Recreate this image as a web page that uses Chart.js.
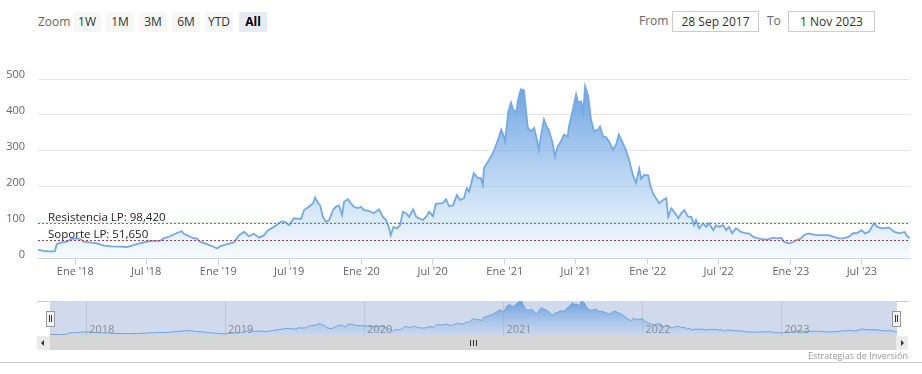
<!DOCTYPE html>
<html>
<head>
<meta charset="utf-8">
<script src="https://cdn.jsdelivr.net/npm/chart.js@4.4.1/dist/chart.umd.min.js"></script>
<style>
  html, body { margin:0; padding:0; background:#fff; }
  body { width:922px; height:374px; position:relative; overflow:hidden; font-family:"Open Sans", "Liberation Sans", sans-serif; }
  .abs { position:absolute; }
  .lbl { color:#666; font-size:12px; line-height:20px; }
  .btn { position:absolute; top:12px; height:20px; width:28px; background:#f7f7f7; color:#333; font-size:12px; line-height:20px; text-align:center; }
  .btn.sel { background:#e6ebf5; color:#000; font-weight:bold; }
  .inp { position:absolute; top:11px; height:19px; border:1px solid #cccccc; color:#333; font-size:12px; line-height:19px; text-align:center; }
  #main { position:absolute; left:0; top:0; }
  #nav { position:absolute; left:0; top:301px; }
</style>
</head>
<body>
<div class="abs lbl" style="left:38px;top:12px;">Zoom</div>
<div class="btn" style="left:73px;">1W</div>
<div class="btn" style="left:106px;">1M</div>
<div class="btn" style="left:139px;">3M</div>
<div class="btn" style="left:172px;">6M</div>
<div class="btn" style="left:205px;">YTD</div>
<div class="btn sel" style="left:239px;">All</div>
<div class="abs lbl" style="left:639px;top:11px;">From</div>
<div class="inp" style="left:672px;width:85px;">28 Sep 2017</div>
<div class="abs lbl" style="left:767px;top:11px;">To</div>
<div class="inp" style="left:788px;width:85px;">1 Nov 2023</div>

<canvas id="main" width="922" height="290"></canvas>
<canvas id="nav" width="922" height="35"></canvas>

<!-- navigator outline / handles / scrollbar -->
<div class="abs" style="left:37px;top:301px;width:13px;height:1px;background:#cccccc;"></div>
<div class="abs" style="left:897px;top:301px;width:12px;height:1px;background:#cccccc;"></div>
<div class="abs" style="left:37px;top:336px;width:871px;height:14px;background:#f2f2f2;"></div>
<div class="abs" style="left:50px;top:336px;width:847px;height:14px;background:#d6d6d6;"></div>
<div class="abs" style="left:37px;top:336px;width:13px;height:14px;background:#ebebeb;"></div>
<div class="abs" style="left:41px;top:340px;width:0;height:0;border-top:3px solid transparent;border-bottom:3px solid transparent;border-right:3px solid #333;"></div>
<div class="abs" style="left:896px;top:336px;width:12px;height:14px;background:#ebebeb;"></div>
<div class="abs" style="left:901px;top:340px;width:0;height:0;border-top:3px solid transparent;border-bottom:3px solid transparent;border-left:3px solid #333;"></div>
<div class="abs" style="left:470px;top:340px;width:1px;height:6px;background:#333;"></div>
<div class="abs" style="left:473px;top:340px;width:1px;height:6px;background:#333;"></div>
<div class="abs" style="left:476px;top:340px;width:1px;height:6px;background:#333;"></div>
<div class="abs" style="left:46px;top:311px;width:7px;height:14px;background:#f2f2f2;border:1px solid #999;"></div>
<div class="abs" style="left:49px;top:315px;width:1px;height:7px;background:#333;"></div>
<div class="abs" style="left:51px;top:315px;width:1px;height:7px;background:#333;"></div>
<div class="abs" style="left:892px;top:311px;width:7px;height:14px;background:#f2f2f2;border:1px solid #999;"></div>
<div class="abs" style="left:895px;top:315px;width:1px;height:7px;background:#333;"></div>
<div class="abs" style="left:897px;top:315px;width:1px;height:7px;background:#333;"></div>
<div class="abs" style="left:0;top:362px;width:922px;height:1px;background:#cccccc;"></div>
<div class="abs" style="right:14px;top:350px;font-size:9px;color:#999;line-height:12px;">Estrategias de Inversión</div>

<script>
// ---------- DATA ----------
const dates = [
'2017-09-28','2017-10-11','2017-10-26','2017-11-10','2017-11-15','2017-11-25','2017-12-11','2017-12-21','2017-12-31',
'2018-01-13','2018-01-23','2018-02-07','2018-02-25','2018-03-15','2018-04-02','2018-04-25','2018-05-13','2018-06-07',
'2018-06-25','2018-07-08','2018-07-21','2018-08-05','2018-08-15','2018-08-31','2018-09-17','2018-09-30','2018-10-05',
'2018-10-18','2018-10-31','2018-11-07','2018-11-15','2018-12-03','2018-12-21','2018-12-29',
'2019-01-05','2019-01-23','2019-02-10','2019-02-23','2019-03-08','2019-03-20','2019-04-02','2019-04-15','2019-04-28',
'2019-05-08','2019-05-23','2019-06-10','2019-06-18','2019-07-01','2019-07-13','2019-07-31','2019-08-08','2019-08-20',
'2019-08-31','2019-09-05','2019-09-13','2019-09-18','2019-09-25','2019-10-03','2019-10-11','2019-10-21','2019-10-28',
'2019-11-05','2019-11-13','2019-11-18','2019-11-28','2019-12-05','2019-12-13','2019-12-23','2019-12-31',
'2020-01-08','2020-01-20','2020-02-02','2020-02-15','2020-02-25','2020-03-04','2020-03-11','2020-03-16','2020-03-23',
'2020-04-01','2020-04-09','2020-04-16','2020-04-24','2020-05-02','2020-05-12','2020-05-20','2020-05-27','2020-06-06',
'2020-06-14','2020-06-22','2020-07-02','2020-07-09','2020-07-27','2020-08-04','2020-08-12','2020-08-22','2020-09-01',
'2020-09-09','2020-09-19','2020-09-26','2020-10-02','2020-10-14','2020-10-25','2020-11-01','2020-11-06','2020-11-09',
'2020-11-22','2020-12-02','2020-12-15','2020-12-23','2020-12-28',
'2021-01-02','2021-01-10','2021-01-17','2021-01-22','2021-01-30','2021-02-04','2021-02-11','2021-02-19','2021-02-22',
'2021-03-01','2021-03-09','2021-03-17','2021-03-24','2021-03-29','2021-04-03','2021-04-11','2021-04-18','2021-04-23',
'2021-05-03','2021-05-09','2021-05-16','2021-05-24','2021-06-01','2021-06-11','2021-06-13','2021-06-24','2021-07-02',
'2021-07-07','2021-07-15','2021-07-20','2021-07-25','2021-08-02','2021-08-09','2021-08-17','2021-08-27','2021-09-01',
'2021-09-09','2021-09-16','2021-09-24','2021-10-04','2021-10-12','2021-10-19','2021-10-29','2021-11-06','2021-11-14',
'2021-11-24','2021-12-02','2021-12-10','2021-12-15','2021-12-23',
'2022-01-02','2022-01-07','2022-01-14','2022-01-22','2022-01-30','2022-02-09','2022-02-17','2022-02-22','2022-03-02',
'2022-03-09','2022-03-20','2022-03-27','2022-04-04','2022-04-14','2022-04-22','2022-04-29','2022-05-04','2022-05-12',
'2022-05-22','2022-05-30','2022-06-06','2022-06-17','2022-06-24','2022-07-02','2022-07-12','2022-07-20','2022-07-27',
'2022-08-04','2022-08-14','2022-08-27','2022-09-09','2022-09-16','2022-09-27','2022-10-09','2022-10-22','2022-11-04',
'2022-11-17','2022-11-29','2022-12-07','2022-12-15','2022-12-28',
'2023-01-07','2023-01-14','2023-01-27','2023-02-04','2023-02-14','2023-02-22','2023-03-07','2023-03-20','2023-04-07',
'2023-04-20','2023-05-03','2023-05-15','2023-05-28','2023-06-10','2023-06-18','2023-07-01','2023-07-09','2023-07-19',
'2023-08-01','2023-08-09','2023-08-22','2023-09-09','2023-09-22','2023-10-05','2023-10-18','2023-10-25','2023-11-01'
];
const values = [
24,21,20,20,40,44,47,54,56,
55,47,45,42,36,34,33,32,40,
45,48,49,49,56,62,71,76,69,
62,56,56,47,40,32,28,
34,40,45,65,74,62,69,58,65,
79,88,102,103,93,112,110,135,144,
154,170,154,148,116,102,107,135,144,
148,121,158,165,154,144,140,144,
135,133,126,137,116,107,88,65,88,
84,93,130,126,116,137,116,112,107,
116,130,118,152,154,165,146,148,177,
163,168,196,186,238,224,224,205,252,
275,294,331,359,345,
326,410,434,415,406,443,471,469,434,
364,354,364,331,303,340,387,368,359,
322,284,312,326,345,340,364,415,457,
434,438,406,480,452,387,354,359,368,
340,338,326,303,317,345,322,303,275,
233,210,250,222,233,
232,205,182,168,154,163,168,116,140,
130,112,126,135,116,116,93,107,84,
98,88,98,79,93,88,93,79,88,
70,84,74,70,70,60,56,53,53,
58,56,58,46,42,
46,51,56,65,70,68,65,65,65,
60,56,56,60,71,70,79,70,74,
98,88,84,86,74,70,74,62,57
];
const rangeStart = '2017-09-28';
const rangeEnd = '2023-11-01';
const xTickDates = ['2018-01-01','2018-07-01','2019-01-01','2019-07-01','2020-01-01','2020-07-01',
                    '2021-01-01','2021-07-01','2022-01-01','2022-07-01','2023-01-01','2023-07-01'];
const xTickLabels = ["Ene '18","Jul '18","Ene '19","Jul '19","Ene '20","Jul '20",
                     "Ene '21","Jul '21","Ene '22","Jul '22","Ene '23","Jul '23"];
const yTicks = [0,100,200,300,400,500];
const navYearDates = ['2018-01-01','2019-01-01','2020-01-01','2021-01-01','2022-01-01','2023-01-01'];
const navYearLabels = ['2018','2019','2020','2021','2022','2023'];
const levelNames = ['Resistencia LP: 98,420','Soporte LP: 51,650'];
const levelValues = [98.42, 51.65];
const levelColors = ['#3e9a3a','#b03a48'];

// ---------- BUILD ----------
const pts = dates.map((d,i)=>({x:Date.parse(d), y:values[i]}));
const xMin = Date.parse(rangeStart), xMax = Date.parse(rangeEnd);

const levelPlugin = {
  id:'levels',
  afterDatasetsDraw(chart){
    const {ctx, chartArea:a, scales:{y}} = chart;
    ctx.save();
    levelValues.forEach((v,i)=>{
      const py = Math.round(y.getPixelForValue(v)) + 0.5;
      ctx.beginPath();
      ctx.setLineDash([2,2]);
      ctx.strokeStyle = levelColors[i];
      ctx.lineWidth = 1;
      ctx.moveTo(a.left, py); ctx.lineTo(a.right, py);
      ctx.stroke();
      ctx.setLineDash([]);
      ctx.fillStyle = '#222';
      ctx.font = '11.5px "Open Sans", sans-serif';
      ctx.textBaseline = 'alphabetic';
      ctx.textAlign = 'left';
      ctx.fillText(levelNames[i], a.left + 10, py - 3);
    });
    ctx.restore();
  }
};

new Chart(document.getElementById('main'), {
  type:'line',
  data:{ datasets:[{
    data: pts,
    borderColor:'#74aae2',
    borderWidth:1.8,
    pointRadius:0,
    tension:0,
    fill:'origin',
    backgroundColor(ctx){
      const c = ctx.chart, a = c.chartArea;
      if(!a) return 'rgba(124,181,236,0.5)';
      const g = c.ctx.createLinearGradient(0, a.top, 0, a.bottom);
      g.addColorStop(0, 'rgba(104,158,222,1)');
      g.addColorStop(1, 'rgba(124,181,236,0.05)');
      return g;
    }
  }]},
  options:{
    responsive:false, animation:false,
    layout:{ padding:{ top:79, right:12, left:0, bottom:0 } },
    plugins:{ legend:{display:false}, tooltip:{enabled:false} },
    scales:{
      x:{
        type:'linear', min:xMin, max:xMax,
        afterBuildTicks(s){ s.ticks = xTickDates.map(d=>({value:Date.parse(d)})); },
        afterFit(s){ s.height = 31.5; },
        grid:{ drawOnChartArea:false, drawTicks:true, tickLength:6, color:'#ccd6eb' },
        border:{ color:'#ccd6eb' },
        ticks:{ autoSkip:false, maxRotation:0, padding:1, color:'#666', font:{ size:11, family:'"Open Sans", sans-serif' },
          callback(v,i){ return xTickLabels[i]; } }
      },
      y:{
        min:0, max:500,
        afterBuildTicks(s){ s.ticks = yTicks.map(v=>({value:v})); },
        afterFit(s){ s.width = 38; },
        grid:{ color:'#e6e6e6', drawTicks:false },
        border:{ display:false },
        ticks:{ padding:13, labelOffset:-4, color:'#666', font:{ size:11, family:'"Open Sans", sans-serif' } }
      }
    }
  },
  plugins:[levelPlugin]
});

const navPlugin = {
  id:'navdeco',
  beforeDraw(chart){
    const {ctx, chartArea:a} = chart;
    ctx.save();
    ctx.fillStyle = 'rgba(102,133,194,0.3)';
    ctx.fillRect(a.left, a.top, a.right-a.left, a.bottom-a.top);
    ctx.restore();
  },
  afterDraw(chart){
    const {ctx, chartArea:a, scales:{x}} = chart;
    ctx.save();
    ctx.fillStyle = '#8c8c8c';
    ctx.font = '11px "Open Sans", sans-serif';
    ctx.textAlign = 'left';
    ctx.textBaseline = 'alphabetic';
    navYearDates.forEach((d,i)=>{
      ctx.fillText(navYearLabels[i], x.getPixelForValue(Date.parse(d)) + 3, a.bottom - 3);
    });
    ctx.restore();
  }
};

new Chart(document.getElementById('nav'), {
  type:'line',
  data:{ datasets:[{
    data: pts,
    borderColor:'#6ea4dc',
    borderWidth:1,
    pointRadius:0,
    fill:'origin',
    backgroundColor(ctx){
      const c = ctx.chart, a = c.chartArea;
      if(!a) return 'rgba(124,181,236,0.5)';
      const g = c.ctx.createLinearGradient(0, a.top, 0, a.bottom);
      g.addColorStop(0, 'rgba(98,152,218,0.9)');
      g.addColorStop(1, 'rgba(124,181,236,0.05)');
      return g;
    }
  }]},
  options:{
    responsive:false, animation:false,
    layout:{ padding:{ top:0, right:25, left:50, bottom:0 } },
    plugins:{ legend:{display:false}, tooltip:{enabled:false} },
    scales:{
      x:{
        type:'linear', min:xMin, max:xMax,
        afterBuildTicks(s){ s.ticks = navYearDates.map(d=>({value:Date.parse(d)})); },
        afterFit(s){ s.height = 0; },
        grid:{ color:'rgba(0,0,0,0.09)', drawTicks:false },
        border:{ display:false },
        ticks:{ display:false }
      },
      y:{ display:false, min:0, max:480 }
    }
  },
  plugins:[navPlugin]
});
</script>
</body>
</html>
